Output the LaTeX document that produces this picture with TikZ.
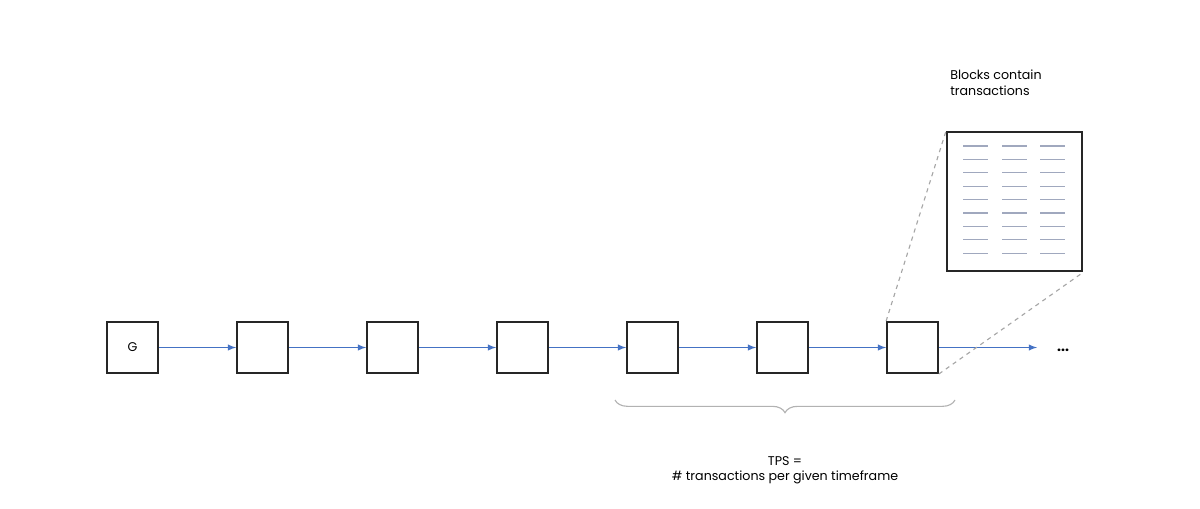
\documentclass[tikz,border=0pt]{standalone}
\usepackage{fontspec}
\setmainfont{Poppins}
\usetikzlibrary{positioning,decorations.pathreplacing}
\definecolor{linkblue}{RGB}{68,114,196}
\definecolor{txgray}{RGB}{160,168,190}
\tikzset{
  block/.style={draw=black!85,line width=1.3pt,minimum size=51*0.025cm,inner sep=0pt,font=\small},
  link/.style={draw=linkblue,line width=1pt,-latex},
  zoomline/.style={draw=gray!70,dashed,line width=0.8pt},
}
\begin{document}
\begin{tikzpicture}[x=0.025cm,y=-0.025cm]
\useasboundingbox (0,0) rectangle (1200,508);
\node[block] (b0) at (132.5,347.5) {G};
\foreach \i in {1,...,6}{
  \pgfmathtruncatemacro{\j}{\i-1}
  \node[block] (b\i) at (132.5+130*\i,347.5) {};
  \draw[link] (b\j) -- (b\i);
}
\node (more) at (1063,350) {\textbf{...}};
\draw[link] (b6) -- (1037,347.5);
% zoomed block
\node[draw=black!85,line width=1.6pt,minimum width=135*0.025cm,minimum height=139*0.025cm,anchor=north west] (big) at (946,131) {};
\foreach \r in {0,...,8}
  \foreach \c in {963,1002,1040}
    \draw[txgray,line width=0.9pt] (\c,146+13.4*\r) -- ++(25,0);
\draw[zoomline] (b6.north west) -- (big.north west);
\draw[zoomline] (b6.south east) -- (big.south east);
\node[anchor=north west,align=left,font=\small,inner sep=0pt] (cap) at (950,70) {Blocks contain\\transactions};
% brace
\draw[decorate,decoration={brace,mirror,amplitude=9pt},draw=gray!60,line width=0.8pt] (615,400) -- (955,400);
\node[align=center,font=\small] (tps) at (785,470) {TPS =\\\# transactions per given timeframe};
\end{tikzpicture}
\end{document}
